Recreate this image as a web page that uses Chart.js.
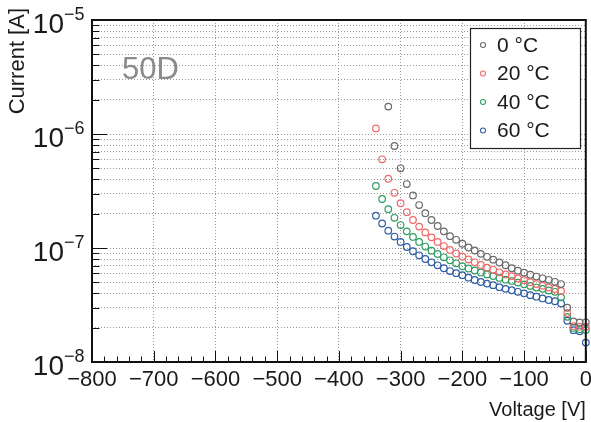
<!DOCTYPE html>
<html>
<head>
<meta charset="utf-8">
<script src="https://cdn.jsdelivr.net/npm/chart.js@4.4.1/dist/chart.umd.min.js"></script>
<style>
  html, body { margin: 0; padding: 0; background: #ffffff; }
  canvas { display: block; }
</style>
</head>
<body>
<canvas id="iv" width="591" height="422"></canvas>
<script>
// I–V scans of sensor 50D at four temperatures (reverse bias, 10 V steps)
const seriesLabels = ['0 \u00B0C', '20 \u00B0C', '40 \u00B0C', '60 \u00B0C'];
const seriesColors = ['#6b6b6b', '#ef6a6a', '#2f9e62', '#2f5ea6'];

const voltage0C = [-320, -310, -300, -290, -280, -270, -260, -250, -240, -230, -220, -210, -200,
  -190, -180, -170, -160, -150, -140, -130, -120, -110, -100, -90, -80, -70, -60, -50, -40,
  -30, -20, -10, 0];
const current0C = [1.74e-6, 7.85e-7, 5.00e-7, 3.64e-7, 2.89e-7, 2.38e-7, 2.02e-7, 1.76e-7, 1.56e-7,
  1.40e-7, 1.27e-7, 1.18e-7, 1.09e-7, 1.01e-7, 9.51e-8, 8.89e-8, 8.37e-8, 7.90e-8, 7.46e-8, 7.06e-8,
  6.64e-8, 6.32e-8, 6.08e-8, 5.83e-8, 5.62e-8, 5.42e-8, 5.26e-8, 5.05e-8, 4.83e-8,
  2.99e-8, 2.27e-8, 2.22e-8, 2.23e-8];

const voltageWarm = [-340, -330, -320, -310, -300, -290, -280, -270, -260, -250, -240, -230, -220,
  -210, -200, -190, -180, -170, -160, -150, -140, -130, -120, -110, -100, -90, -80, -70, -60, -50,
  -40, -30, -20, -10, 0];
const current20C = [1.12e-6, 6.00e-7, 4.05e-7, 3.05e-7, 2.47e-7, 2.06e-7, 1.76e-7, 1.54e-7, 1.37e-7,
  1.24e-7, 1.13e-7, 1.04e-7, 9.61e-8, 8.95e-8, 8.42e-8, 7.93e-8, 7.49e-8, 7.10e-8, 6.73e-8, 6.44e-8,
  6.12e-8, 5.87e-8, 5.66e-8, 5.41e-8, 5.22e-8, 5.01e-8, 4.83e-8, 4.67e-8, 4.51e-8, 4.37e-8,
  4.20e-8, 2.69e-8, 2.06e-8, 2.04e-8, 2.04e-8];
const current40C = [3.50e-7, 2.69e-7, 2.19e-7, 1.84e-7, 1.59e-7, 1.40e-7, 1.25e-7, 1.13e-7, 1.03e-7,
  9.47e-8, 8.86e-8, 8.29e-8, 7.80e-8, 7.34e-8, 6.92e-8, 6.61e-8, 6.35e-8, 6.10e-8, 5.87e-8, 5.67e-8,
  5.46e-8, 5.27e-8, 5.14e-8, 4.97e-8, 4.80e-8, 4.65e-8, 4.50e-8, 4.38e-8, 4.24e-8, 4.13e-8,
  3.69e-8, 2.49e-8, 1.99e-8, 1.94e-8, 1.91e-8];
const current60C = [1.92e-7, 1.64e-7, 1.42e-7, 1.26e-7, 1.13e-7, 1.02e-7, 9.36e-8, 8.63e-8, 8.01e-8,
  7.49e-8, 7.05e-8, 6.64e-8, 6.28e-8, 6.01e-8, 5.78e-8, 5.49e-8, 5.24e-8, 5.03e-8, 4.87e-8, 4.72e-8,
  4.53e-8, 4.38e-8, 4.26e-8, 4.13e-8, 4.00e-8, 3.86e-8, 3.74e-8, 3.61e-8, 3.50e-8, 3.41e-8,
  3.26e-8, 2.30e-8, 1.90e-8, 1.86e-8, 1.48e-8];

const xTickValues = [-800, -700, -600, -500, -400, -300, -200, -100, 0];
const yDecades = [-8, -7, -6, -5];
const xTitle = 'Voltage [V]';
const yTitle = 'Current [A]';
const sampleName = '50D';

const FONT = '"Liberation Sans", Arial, Helvetica, sans-serif';
const TEXT = '#1a1a1a';
const GRID = '#9a9a9a';

function toPoints(vs, is) { return vs.map((v, i) => ({ x: v, y: is[i] })); }

const seriesData = [
  toPoints(voltage0C, current0C),
  toPoints(voltageWarm, current20C),
  toPoints(voltageWarm, current40C),
  toPoints(voltageWarm, current60C)
];

// log-axis tick values: 1..9 x 10^n inside each decade, plus the top decade
function logTickValues() {
  const out = [];
  for (let k = 0; k < yDecades.length - 1; k++) {
    for (let m = 1; m <= 9; m++) out.push(m * Math.pow(10, yDecades[k]));
  }
  out.push(Math.pow(10, yDecades[yDecades.length - 1]));
  return out;
}

function fmtVolt(v) { return v < 0 ? '\u2212' + Math.abs(v) : String(v); }

const decorations = {
  id: 'decorations',
  afterDraw(chart) {
    const { ctx, chartArea: a, scales } = chart;
    const xs = scales.x, ys = scales.y;
    ctx.save();

    // inward tick marks, bottom axis: majors every 100 V, 4 minors between
    ctx.strokeStyle = '#111';
    ctx.lineWidth = 1;
    ctx.beginPath();
    for (let i = 0; i < xTickValues.length; i++) {
      const v = xTickValues[i];
      const px = Math.round(xs.getPixelForValue(v)) + 0.5;
      ctx.moveTo(px, a.bottom); ctx.lineTo(px, a.bottom - 11);
      if (i < xTickValues.length - 1) {
        const step = (xTickValues[i + 1] - v) / 5;
        for (let s = 1; s < 5; s++) {
          const pm = Math.round(xs.getPixelForValue(v + s * step)) + 0.5;
          ctx.moveTo(pm, a.bottom); ctx.lineTo(pm, a.bottom - 5.5);
        }
      }
    }
    // inward tick marks, left axis
    logTickValues().forEach(val => {
      const py = Math.round(ys.getPixelForValue(val)) + 0.5;
      const major = Math.abs(Math.log10(val) - Math.round(Math.log10(val))) < 1e-9;
      ctx.moveTo(a.left, py); ctx.lineTo(a.left + (major ? 15 : 7.5), py);
    });
    ctx.stroke();

    // frame
    ctx.lineWidth = 2;
    ctx.strokeStyle = '#111';
    ctx.strokeRect(a.left, a.top, a.right - a.left, a.bottom - a.top);

    // decade labels 10^n
    ctx.fillStyle = TEXT;
    yDecades.forEach(n => {
      const py = ys.getPixelForValue(Math.pow(10, n));
      ctx.font = '28px ' + FONT;
      ctx.textAlign = 'right';
      ctx.textBaseline = 'alphabetic';
      ctx.fillText('10', 64, py + 13);
      ctx.font = '18px ' + FONT;
      ctx.textAlign = 'left';
      ctx.fillText('\u2212' + Math.abs(n), 64, py);
    });

    // axis titles
    ctx.font = '20px ' + FONT;
    ctx.textAlign = 'right';
    ctx.textBaseline = 'alphabetic';
    ctx.fillText(xTitle, a.right, 416);
    ctx.save();
    ctx.font = '22px ' + FONT;
    ctx.translate(24, 8);
    ctx.rotate(-Math.PI / 2);
    ctx.textAlign = 'right';
    ctx.fillText(yTitle, 0, 0);
    ctx.restore();

    // sample name
    ctx.font = '31px ' + FONT;
    ctx.fillStyle = '#8a8a8a';
    ctx.textAlign = 'left';
    ctx.fillText(sampleName, 122, 79);

    // legend box
    const bx = 470, by = 28, bw = 110, bh = 120;
    ctx.fillStyle = '#ffffff';
    ctx.fillRect(bx, by, bw, bh);
    ctx.lineWidth = 1.2;
    ctx.strokeStyle = '#222';
    ctx.strokeRect(bx + 0.5, by + 0.5, bw, bh);
    chart.data.datasets.forEach((ds, i) => {
      const cy = 45 + i * 28.5;
      ctx.beginPath();
      ctx.arc(483, cy, 2.5, 0, Math.PI * 2);
      ctx.strokeStyle = ds.borderColor;
      ctx.lineWidth = 1.1;
      ctx.stroke();
      ctx.fillStyle = TEXT;
      ctx.font = '21px ' + FONT;
      ctx.textAlign = 'left';
      ctx.textBaseline = 'middle';
      ctx.fillText(ds.label, 497, cy + 1);
    });
    ctx.restore();
  }
};

new Chart(document.getElementById('iv'), {
  type: 'scatter',
  data: {
    datasets: seriesData.map((pts, i) => ({
      label: seriesLabels[i],
      data: pts,
      borderColor: seriesColors[i],
      backgroundColor: 'rgba(0,0,0,0)',
      pointBackgroundColor: 'rgba(0,0,0,0)',
      pointBorderColor: seriesColors[i],
      pointBorderWidth: 1.2,
      pointRadius: 3.3,
      pointStyle: 'circle',
      showLine: false,
      clip: false
    }))
  },
  options: {
    responsive: false,
    animation: false,
    devicePixelRatio: 1,
    events: [],
    layout: { padding: { top: 20, right: 3, left: 0, bottom: 0 } },
    plugins: { legend: { display: false }, tooltip: { enabled: false } },
    scales: {
      x: {
        type: 'linear',
        position: 'bottom',
        min: -800,
        max: 0,
        afterBuildTicks: s => { s.ticks = xTickValues.map(v => ({ value: v })); },
        afterFit: s => { s.height = 60; s.paddingLeft = 0; s.paddingRight = 0; },
        grid: { color: GRID, lineWidth: 1, drawTicks: false },
        border: { display: false, dash: [1, 2] },
        ticks: {
          autoSkip: false,
          maxRotation: 0,
          minRotation: 0,
          padding: 5,
          color: TEXT,
          font: { family: FONT, size: 22 },
          callback: v => fmtVolt(v)
        }
      },
      y: {
        type: 'logarithmic',
        position: 'left',
        min: Math.pow(10, yDecades[0]),
        max: Math.pow(10, yDecades[yDecades.length - 1]),
        afterBuildTicks: s => { s.ticks = logTickValues().map(v => ({ value: v })); },
        afterFit: s => { s.width = 92; s.paddingTop = 0; s.paddingBottom = 0; },
        grid: { color: GRID, lineWidth: 1, drawTicks: false },
        border: { display: false, dash: [1, 2] },
        ticks: { display: false }
      }
    }
  },
  plugins: [decorations]
});
</script>
</body>
</html>
